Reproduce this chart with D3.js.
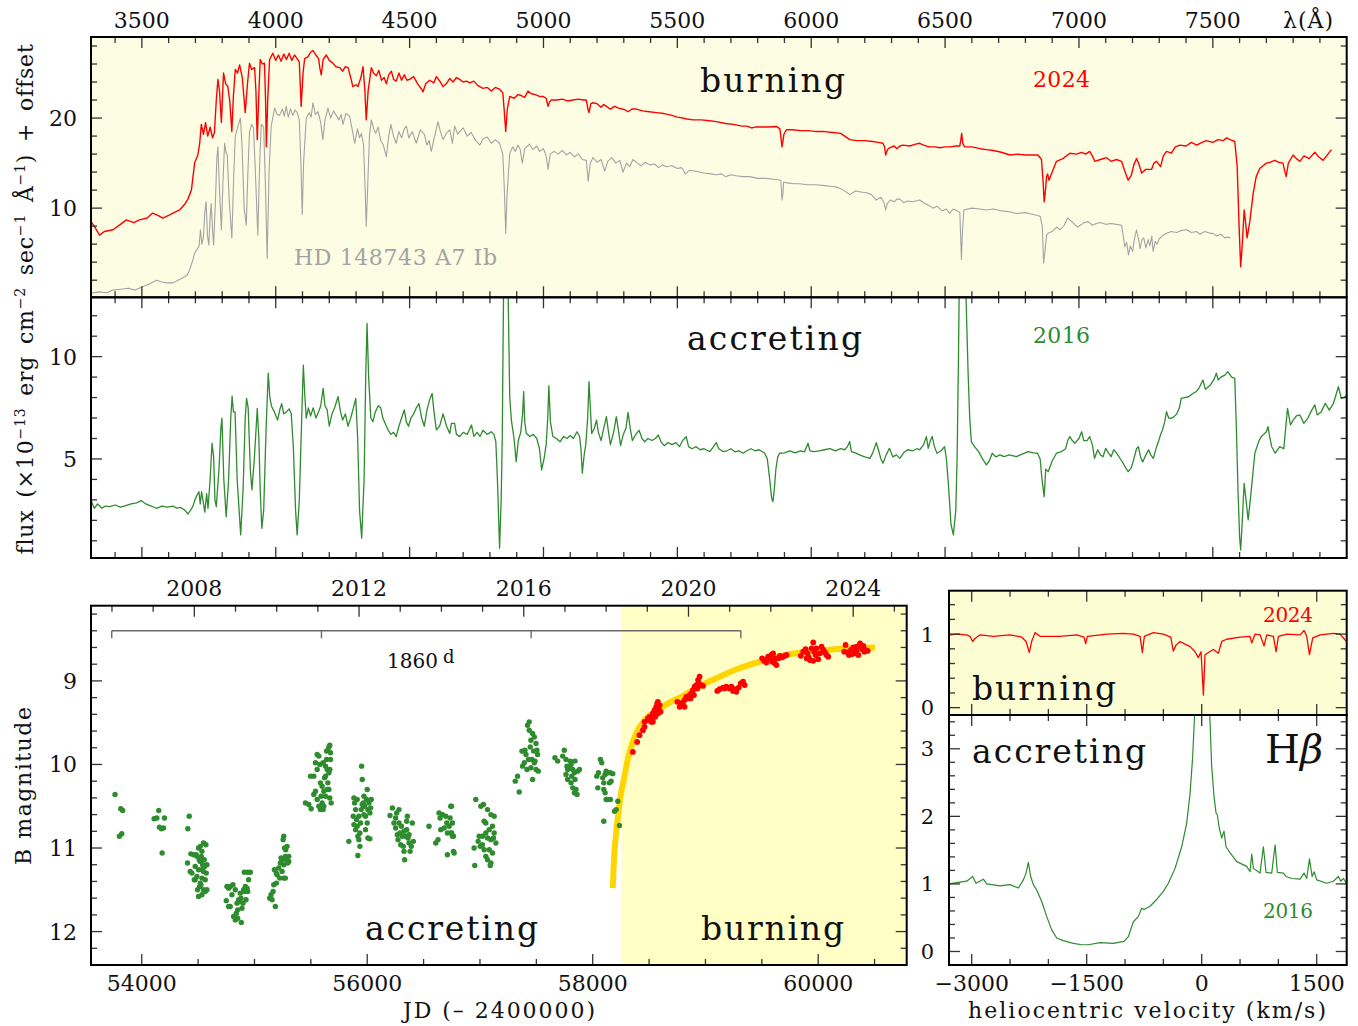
<!DOCTYPE html>
<html>
<head>
<meta charset="utf-8">
<script src="https://cdn.jsdelivr.net/npm/d3@7"></script>
<style>
  body { margin: 0; background: #fff; }
  svg text { font-family: "DejaVu Serif", serif; }
</style>
</head>
<body>
<script>
// ---------- data ----------

// 2024 spectrum (burning), [wavelength A, flux + offset]
const spec2024 = [
[3310,8.5],[3322,8.0],[3342,7.0],[3360,7.4],[3392,7.6],[3420,8.2],[3442,8.7],[3470,8.4],[3491,8.7],[3520,8.9],[3540,9.45],[3560,9.2],[3578,8.9],[3600,9.2],[3620,9.5],[3641,9.8],[3659,10.4],[3672,11.0],[3685,12.0],[3697,15.0],[3709,15.9],[3716,17.2],[3722,19.3],[3730,18.2],[3738,19.5],[3746,18.0],[3755,19.0],[3764,17.8],[3771,18.4],[3778,22.0],[3784,24.3],[3790,23.0],[3797,19.5],[3805,25.0],[3813,23.8],[3821,23.5],[3828,22.0],[3836,18.5],[3842,22.5],[3849,25.4],[3857,25.0],[3865,25.9],[3875,24.5],[3886,20.6],[3895,24.0],[3902,26.1],[3910,25.4],[3921,25.6],[3926,23.0],[3931,17.6],[3936,22.0],[3942,26.5],[3950,26.0],[3958,26.1],[3962,22.0],[3965,16.8],[3970,22.0],[3977,26.5],[3989,27.2],[4000,26.4],[4010,27.0],[4020,26.3],[4030,27.1],[4040,26.5],[4050,27.2],[4060,26.4],[4070,27.0],[4080,26.6],[4088,26.2],[4095,21.3],[4102,25.0],[4108,26.6],[4120,26.8],[4130,27.3],[4139,27.5],[4150,27.0],[4160,26.6],[4165,25.5],[4170,24.8],[4177,26.5],[4189,27.0],[4200,26.4],[4213,26.1],[4225,25.7],[4239,25.6],[4250,25.2],[4260,25.7],[4270,25.6],[4280,24.5],[4288,23.5],[4300,23.7],[4307,23.5],[4318,24.5],[4326,25.7],[4333,23.0],[4338,19.8],[4345,23.0],[4357,25.6],[4365,25.0],[4376,24.7],[4385,25.3],[4395,24.2],[4405,24.5],[4413,23.8],[4422,24.8],[4432,25.2],[4440,24.3],[4450,24.1],[4460,25.0],[4470,24.2],[4480,24.8],[4490,24.2],[4500,24.3],[4515,24.6],[4530,23.8],[4545,23.2],[4550,22.9],[4560,23.8],[4575,24.2],[4590,23.9],[4600,24.6],[4615,24.0],[4625,23.5],[4637,23.8],[4650,24.4],[4662,24.0],[4675,24.5],[4687,24.3],[4700,24.0],[4712,24.1],[4725,23.9],[4740,24.1],[4755,23.6],[4774,23.3],[4790,23.4],[4805,23.0],[4820,23.4],[4836,23.2],[4848,22.8],[4853,21.0],[4859,18.5],[4865,21.0],[4874,22.4],[4890,22.2],[4905,22.6],[4917,22.5],[4930,22.3],[4942,23.0],[4955,22.7],[4970,22.6],[4985,22.4],[4998,22.4],[5010,22.2],[5017,21.3],[5023,21.8],[5029,22.0],[5050,22.0],[5070,22.1],[5090,21.9],[5110,22.0],[5130,22.1],[5150,22.0],[5160,22.0],[5166,21.0],[5170,20.6],[5177,21.6],[5185,21.7],[5200,21.6],[5215,21.2],[5225,21.5],[5235,21.3],[5250,21.0],[5265,21.3],[5280,21.1],[5295,21.0],[5305,20.9],[5316,20.7],[5330,21.0],[5347,21.0],[5370,20.8],[5395,20.7],[5422,20.6],[5450,20.5],[5480,20.3],[5500,20.1],[5521,20.0],[5535,19.9],[5560,19.8],[5590,19.8],[5620,19.7],[5646,19.6],[5680,19.4],[5710,19.3],[5740,19.1],[5760,19.1],[5777,18.9],[5790,19.0],[5810,19.0],[5840,19.0],[5870,19.07],[5883,18.8],[5891,16.8],[5898,18.2],[5907,18.7],[5930,18.7],[5960,18.6],[5990,18.6],[6019,18.5],[6050,18.5],[6080,18.4],[6110,18.3],[6125,18.0],[6144,17.6],[6170,17.5],[6200,17.5],[6230,17.4],[6250,17.3],[6268,17.2],[6274,16.8],[6278,15.9],[6285,16.5],[6293,16.7],[6310,16.9],[6320,16.6],[6331,16.9],[6343,17.0],[6368,16.9],[6390,17.1],[6405,17.2],[6420,17.0],[6440,16.8],[6460,16.8],[6480,16.7],[6500,16.8],[6520,16.8],[6540,16.9],[6555,16.9],[6559,17.6],[6562,18.3],[6566,17.2],[6573,16.8],[6600,16.8],[6630,16.6],[6654,16.5],[6680,16.4],[6710,16.2],[6742,15.9],[6770,16.0],[6800,15.9],[6830,15.9],[6847,15.9],[6860,15.4],[6866,13.0],[6870,10.7],[6875,12.0],[6879,13.5],[6883,13.8],[6888,13.1],[6900,14.0],[6916,15.2],[6940,15.5],[6966,16.1],[6990,16.0],[7010,16.2],[7025,16.0],[7040,16.3],[7050,15.8],[7059,15.2],[7080,15.4],[7103,15.6],[7120,15.2],[7140,15.4],[7159,15.2],[7170,14.2],[7184,13.1],[7195,13.6],[7205,14.8],[7215,15.5],[7225,14.8],[7234,13.9],[7250,14.3],[7271,14.3],[7280,15.0],[7290,15.2],[7305,14.6],[7315,15.8],[7327,16.3],[7345,16.1],[7360,16.8],[7377,17.0],[7400,16.9],[7420,17.3],[7440,17.0],[7452,17.2],[7475,17.5],[7500,17.3],[7520,17.6],[7540,17.5],[7551,17.8],[7565,17.6],[7582,17.4],[7591,14.6],[7598,8.0],[7604,3.5],[7610,6.0],[7617,9.8],[7622,8.5],[7628,6.7],[7638,8.5],[7651,11.7],[7662,13.5],[7675,14.4],[7700,15.0],[7715,15.1],[7731,15.3],[7745,15.1],[7762,15.0],[7768,14.2],[7774,13.5],[7782,15.0],[7800,15.9],[7812,15.5],[7825,15.2],[7840,15.8],[7860,15.5],[7881,16.2],[7895,15.7],[7912,15.3],[7925,15.8],[7943,16.5]
];

// HD 148743 A7 Ib template
const specTemplate = [
[3310,0.56],[3340,0.7],[3370,0.6],[3392,0.9],[3420,1.0],[3450,1.1],[3475,0.9],[3504,1.3],[3530,1.6],[3554,2.0],[3575,1.8],[3595,1.7],[3616,1.7],[3635,2.0],[3655,2.3],[3670,2.6],[3678,3.1],[3690,4.2],[3697,5.0],[3705,5.4],[3713,5.7],[3719,7.6],[3724,6.0],[3730,6.8],[3735,9.5],[3740,10.7],[3745,7.0],[3750,5.9],[3755,9.0],[3759,10.5],[3764,7.5],[3768,5.9],[3775,11.0],[3780,15.5],[3784,16.8],[3790,12.0],[3797,7.6],[3803,13.0],[3809,17.2],[3814,16.2],[3819,15.9],[3826,11.0],[3836,6.7],[3843,13.5],[3849,18.0],[3858,19.0],[3868,20.0],[3874,17.0],[3882,10.0],[3890,8.1],[3896,14.0],[3902,18.5],[3910,19.3],[3917,18.9],[3924,14.0],[3933,7.0],[3940,15.0],[3946,19.3],[3955,19.0],[3961,13.0],[3968,4.4],[3975,14.0],[3983,19.1],[3996,21.1],[4005,20.4],[4014,20.3],[4025,21.0],[4032,20.2],[4039,21.3],[4047,20.1],[4055,21.0],[4064,20.3],[4072,20.9],[4080,20.6],[4088,19.8],[4094,15.0],[4099,9.3],[4104,15.0],[4114,20.0],[4125,20.6],[4132,20.1],[4139,21.7],[4148,20.4],[4158,20.7],[4168,19.5],[4176,17.6],[4184,19.8],[4195,21.1],[4205,20.0],[4216,20.8],[4226,20.3],[4236,19.8],[4244,20.4],[4251,19.3],[4262,20.5],[4276,20.2],[4284,19.0],[4295,17.2],[4305,18.8],[4313,17.8],[4320,18.3],[4328,17.0],[4334,12.0],[4338,8.0],[4343,12.0],[4350,18.0],[4357,19.8],[4366,18.8],[4374,18.3],[4382,19.0],[4392,17.5],[4402,17.0],[4413,15.7],[4422,18.0],[4430,19.3],[4440,18.0],[4450,17.2],[4460,18.5],[4470,17.8],[4480,18.8],[4488,19.1],[4497,17.8],[4510,18.5],[4525,17.2],[4540,18.7],[4555,18.2],[4565,17.0],[4573,17.5],[4581,16.3],[4592,17.8],[4606,19.6],[4615,18.5],[4625,17.6],[4637,18.3],[4650,18.7],[4660,17.2],[4668,19.1],[4680,18.2],[4690,18.6],[4700,18.9],[4715,18.0],[4730,18.4],[4745,17.6],[4762,17.0],[4775,17.7],[4790,17.9],[4805,17.2],[4820,17.6],[4836,17.2],[4848,16.0],[4854,12.0],[4859,7.2],[4864,11.5],[4874,16.1],[4885,16.8],[4895,16.3],[4905,17.0],[4913,16.5],[4921,15.0],[4930,16.6],[4948,17.1],[4960,16.5],[4975,16.9],[4986,16.3],[5000,16.6],[5010,15.8],[5017,14.3],[5025,16.0],[5040,16.3],[5055,16.0],[5070,16.4],[5085,15.9],[5100,16.2],[5115,15.7],[5130,16.0],[5145,15.4],[5160,15.3],[5167,13.0],[5175,15.0],[5185,15.6],[5200,15.1],[5215,15.4],[5229,14.1],[5240,15.2],[5255,15.6],[5270,15.0],[5285,15.3],[5297,14.0],[5310,15.0],[5322,14.6],[5334,15.4],[5350,15.0],[5365,14.7],[5380,15.1],[5397,14.8],[5415,14.9],[5430,14.5],[5445,14.8],[5459,14.6],[5480,14.7],[5500,14.4],[5515,14.5],[5521,14.3],[5530,13.8],[5545,14.2],[5570,14.1],[5600,13.9],[5625,13.8],[5646,13.7],[5665,13.8],[5680,13.5],[5700,13.7],[5720,13.6],[5745,13.5],[5770,13.5],[5800,13.3],[5832,13.3],[5860,13.2],[5886,13.1],[5889,12.0],[5891,10.9],[5894,11.5],[5897,12.9],[5910,12.8],[5935,12.7],[5957,12.7],[5985,12.6],[6019,12.6],[6050,12.5],[6081,12.4],[6100,12.3],[6120,12.0],[6144,11.5],[6165,11.9],[6185,11.8],[6206,11.7],[6225,11.5],[6243,10.9],[6260,11.2],[6272,10.6],[6278,9.8],[6284,10.5],[6295,10.9],[6310,10.7],[6320,11.0],[6331,11.0],[6345,10.6],[6360,10.8],[6380,10.7],[6405,10.9],[6420,10.6],[6440,10.3],[6455,10.0],[6470,10.2],[6490,9.7],[6505,9.9],[6517,9.4],[6530,9.9],[6545,9.7],[6555,9.5],[6558,7.0],[6561,4.3],[6565,7.5],[6570,9.8],[6600,10.0],[6630,9.9],[6654,9.8],[6680,9.9],[6710,9.7],[6740,9.6],[6766,9.4],[6800,9.5],[6830,9.3],[6855,9.1],[6863,8.0],[6868,3.9],[6874,5.5],[6879,7.0],[6885,7.2],[6900,7.4],[6916,7.9],[6930,7.6],[6945,8.1],[6958,8.9],[6966,8.7],[6980,8.3],[6995,7.9],[7010,8.2],[7020,8.4],[7034,8.5],[7050,8.1],[7065,8.3],[7080,8.4],[7100,8.2],[7120,8.3],[7140,8.2],[7159,8.1],[7165,7.0],[7171,5.7],[7178,6.2],[7185,4.8],[7192,5.8],[7200,5.2],[7207,6.5],[7215,7.6],[7222,6.6],[7228,5.5],[7235,6.5],[7242,6.7],[7250,5.6],[7258,6.5],[7265,5.8],[7272,6.9],[7277,5.2],[7285,6.3],[7292,6.0],[7300,6.6],[7315,7.0],[7327,7.2],[7345,7.4],[7365,7.3],[7380,7.5],[7402,7.6],[7420,7.3],[7440,7.4],[7452,7.1],[7470,7.4],[7490,7.2],[7500,7.2],[7515,6.9],[7530,7.1],[7545,6.7],[7555,6.8],[7565,6.67]
];

// 2016 spectrum (accreting)
const spec2016 = [
[3310,3.0],[3322,2.59],[3335,2.8],[3350,2.6],[3365,2.7],[3380,2.67],[3400,2.75],[3420,2.65],[3440,2.72],[3460,2.8],[3480,2.85],[3498,2.96],[3515,2.8],[3535,2.7],[3554,2.59],[3575,2.7],[3595,2.65],[3616,2.7],[3630,2.6],[3645,2.63],[3660,2.5],[3672,2.31],[3682,2.5],[3690,2.67],[3698,3.0],[3705,3.2],[3713,3.4],[3718,2.8],[3723,3.4],[3728,3.0],[3735,2.4],[3742,3.3],[3747,2.59],[3755,4.0],[3762,5.77],[3768,5.1],[3773,3.0],[3778,2.67],[3788,4.5],[3795,6.5],[3799,6.99],[3806,4.0],[3815,2.18],[3824,4.0],[3832,7.0],[3837,8.08],[3842,7.3],[3848,7.3],[3856,4.0],[3869,1.29],[3878,3.5],[3886,7.0],[3891,7.96],[3897,7.5],[3905,4.5],[3911,3.49],[3920,5.0],[3931,7.47],[3937,6.0],[3942,3.5],[3948,1.61],[3955,2.5],[3964,6.5],[3972,9.19],[3978,8.0],[3985,7.55],[3995,7.3],[4007,6.9],[4015,7.4],[4022,7.7],[4030,7.2],[4040,7.3],[4050,7.45],[4058,7.2],[4066,5.5],[4074,2.5],[4080,1.29],[4088,3.0],[4097,7.0],[4103,9.59],[4109,8.0],[4114,7.0],[4122,7.5],[4130,7.1],[4140,7.5],[4150,7.0],[4160,7.3],[4168,7.6],[4177,8.45],[4184,7.6],[4192,7.4],[4200,6.6],[4210,7.2],[4220,7.5],[4233,8.05],[4242,7.3],[4250,6.9],[4260,7.2],[4270,6.6],[4280,7.0],[4290,7.5],[4299,7.96],[4306,6.0],[4313,2.5],[4321,1.13],[4330,4.0],[4336,9.0],[4341,11.63],[4347,9.0],[4355,7.0],[4363,6.82],[4372,7.3],[4383,7.6],[4392,7.5],[4400,7.0],[4410,6.7],[4420,6.4],[4430,6.2],[4440,6.3],[4450,6.09],[4460,6.6],[4470,7.0],[4480,7.4],[4488,6.8],[4496,6.6],[4505,7.0],[4515,7.2],[4525,7.5],[4535,7.7],[4545,7.0],[4555,6.6],[4565,7.4],[4575,7.9],[4584,8.2],[4592,7.2],[4600,6.42],[4612,6.6],[4625,7.2],[4638,6.6],[4650,6.25],[4656,6.74],[4668,6.74],[4675,6.2],[4687,6.09],[4700,6.3],[4715,6.2],[4731,6.66],[4740,6.1],[4752,6.3],[4763,6.1],[4774,6.4],[4790,6.2],[4805,6.33],[4815,6.2],[4822,5.85],[4828,4.0],[4836,0.64],[4842,3.0],[4846,6.0],[4850,12.0],[4855,18.0],[4862,18.0],[4868,13.0],[4874,8.0],[4880,6.9],[4890,6.0],[4898,4.87],[4906,5.9],[4915,6.3],[4922,7.2],[4926,8.29],[4930,6.8],[4936,6.25],[4950,6.1],[4962,6.2],[4975,6.0],[4985,5.5],[4993,4.46],[5002,5.0],[5010,5.7],[5016,7.0],[5020,8.58],[5026,6.8],[5035,6.1],[5048,6.0],[5062,5.84],[5075,6.1],[5088,6.0],[5100,6.15],[5112,6.0],[5125,6.33],[5135,6.1],[5140,5.5],[5145,4.3],[5152,5.2],[5158,5.7],[5165,7.0],[5170,8.78],[5175,7.5],[5180,6.25],[5190,6.5],[5198,6.9],[5205,6.3],[5215,5.9],[5225,6.5],[5235,7.07],[5243,6.3],[5250,5.7],[5262,6.3],[5272,7.07],[5280,6.4],[5288,5.65],[5298,6.2],[5308,6.5],[5316,7.28],[5324,6.5],[5332,5.9],[5345,6.2],[5357,6.4],[5368,6.0],[5378,5.84],[5390,6.0],[5405,5.9],[5418,6.0],[5429,6.17],[5440,5.8],[5452,5.65],[5465,5.8],[5480,5.7],[5495,5.8],[5508,5.6],[5520,5.9],[5533,6.09],[5542,5.6],[5555,5.5],[5570,5.6],[5585,5.45],[5600,5.5],[5615,5.4],[5621,5.36],[5635,5.6],[5645,5.8],[5655,5.5],[5670,5.36],[5685,5.4],[5700,5.5],[5715,5.35],[5730,5.4],[5745,5.28],[5760,5.4],[5775,5.5],[5790,5.4],[5805,5.45],[5818,5.35],[5826,5.28],[5836,5.0],[5845,4.0],[5852,3.1],[5857,2.91],[5862,3.5],[5868,4.5],[5875,5.1],[5882,5.28],[5900,5.3],[5920,5.4],[5940,5.3],[5960,5.4],[5975,5.35],[5988,5.77],[5995,5.4],[6010,5.36],[6030,5.4],[6050,5.45],[6070,5.5],[6090,5.4],[6110,5.5],[6125,5.45],[6135,5.6],[6144,5.85],[6150,5.36],[6165,5.3],[6180,5.2],[6200,5.1],[6219,5.03],[6230,5.3],[6243,5.8],[6252,5.4],[6260,5.0],[6268,4.79],[6280,5.2],[6292,5.52],[6305,5.1],[6318,5.2],[6331,5.03],[6345,5.3],[6360,5.45],[6380,5.4],[6395,5.5],[6405,5.45],[6420,5.7],[6430,6.09],[6437,5.52],[6445,5.9],[6452,6.1],[6460,5.6],[6470,5.28],[6485,5.4],[6498,5.6],[6505,5.0],[6513,3.65],[6522,1.8],[6531,1.29],[6540,2.5],[6545,5.11],[6550,10.0],[6555,16.0],[6573,16.0],[6580,12.0],[6586,9.19],[6592,7.0],[6598,5.85],[6610,5.6],[6625,5.36],[6640,5.0],[6654,4.71],[6665,4.9],[6676,5.28],[6690,5.1],[6705,5.2],[6720,5.11],[6740,5.2],[6766,5.11],[6790,5.25],[6810,5.36],[6830,5.3],[6845,5.28],[6855,5.0],[6862,4.0],[6870,3.16],[6876,4.5],[6885,4.38],[6900,4.9],[6916,5.28],[6935,5.36],[6950,5.5],[6958,5.9],[6966,6.09],[6975,5.9],[6985,5.77],[7000,6.0],[7010,6.33],[7018,5.9],[7030,5.9],[7040,6.09],[7050,5.7],[7058,5.03],[7070,5.45],[7080,5.2],[7090,5.11],[7100,5.52],[7110,5.3],[7120,5.11],[7130,5.45],[7140,5.3],[7160,4.9],[7175,4.55],[7184,4.38],[7195,4.55],[7205,5.0],[7215,5.5],[7222,5.6],[7230,5.1],[7238,4.85],[7250,5.2],[7260,5.45],[7268,5.2],[7278,5.03],[7290,5.6],[7297,5.85],[7305,6.2],[7312,6.42],[7320,6.8],[7327,7.31],[7335,7.0],[7345,6.99],[7355,7.07],[7365,7.2],[7375,7.5],[7382,7.96],[7395,8.0],[7410,8.04],[7425,8.2],[7438,8.29],[7450,8.5],[7463,8.86],[7472,8.41],[7490,8.6],[7505,8.9],[7513,9.19],[7520,8.86],[7530,9.0],[7545,9.1],[7556,9.27],[7570,9.0],[7582,8.94],[7588,6.5],[7594,3.49],[7600,1.2],[7604,0.55],[7610,2.0],[7617,3.81],[7624,3.0],[7632,2.02],[7640,3.0],[7657,5.28],[7670,5.8],[7680,6.09],[7690,6.2],[7700,6.33],[7706,6.58],[7712,6.1],[7720,5.6],[7733,5.28],[7750,5.6],[7765,5.5],[7779,7.47],[7790,6.66],[7800,6.9],[7812,7.1],[7825,7.15],[7840,6.74],[7855,7.0],[7870,7.4],[7881,7.64],[7890,7.15],[7905,7.3],[7920,7.72],[7935,7.39],[7950,7.7],[7969,8.53],[7980,7.96],[7990,8.0],[8000,8.12]
];

// B light curve, accreting phase [JD-2400000, B]
const lcAccreting = [
[53763,10.36],[53814,10.53],[53831,10.55],[53802,10.86],[53823,10.83],
[54110,10.65],[54134,10.64],[54151,10.55],[54202,10.64],[54193,10.76],[54175,10.77],[54157,10.75],[54181,11.06],
[54421,10.62],[54409,10.77],[54406,11.18],[54436,11.07],[54460,11.08],[54430,11.28],[54445,11.30],[54466,11.38],[54489,11.10],[54504,11.00],[54519,10.98],[54534,11.04],[54548,10.94],[54569,10.96],[54554,11.14],[54578,11.20],[54534,11.26],[54504,11.26],[54519,11.42],[54548,11.50],[54563,11.52],[54534,11.56],[54504,11.58],[54513,11.46],[54489,11.34],[54474,11.22],[54519,11.16],[54495,11.50],[54578,11.50],[54548,11.28],[54563,11.38],[54534,11.36],[54483,11.08],[54528,11.10],[54557,11.22],[54510,11.14],[54540,11.20],[54474,11.38],[54572,11.30],[54525,11.44],
[54756,11.46],[54771,11.48],[54785,11.46],[54750,11.63],[54771,11.70],[54785,11.70],[54800,11.56],[54815,11.82],[54830,11.86],[54839,11.78],[54845,11.66],[54851,11.74],[54860,11.62],[54869,11.64],[54874,11.54],[54880,11.60],[54889,11.72],[54898,11.66],[54904,11.50],[54913,11.52],[54919,11.46],[54925,11.62],[54934,11.48],[54940,11.52],[54910,11.29],[54940,11.29],[54948,11.38],[54963,11.29],[54883,11.89],[54851,11.84],[54830,11.50],[54809,11.44],
[55135,11.60],[55147,11.56],[55156,11.62],[55165,11.52],[55185,11.70],[55171,11.44],[55194,11.42],[55177,11.26],[55200,11.32],[55215,11.24],[55224,11.36],[55194,11.30],[55230,11.18],[55236,11.12],[55245,11.14],[55260,11.20],[55266,11.00],[55277,11.02],[55274,11.10],[55283,11.14],[55295,11.18],[55304,11.10],[55254,10.90],[55260,10.86],[55289,10.98],[55304,11.16],[55260,11.36],[55274,11.36],[55245,11.28],
[55452,10.46],[55482,10.48],[55503,10.53],[55497,10.14],[55526,10.14],[55541,9.98],[55556,10.06],[55571,9.90],[55580,10.00],[55585,10.22],[55591,10.38],[55600,10.46],[55609,10.54],[55615,10.32],[55621,10.16],[55630,10.02],[55639,9.94],[55645,10.06],[55651,10.22],[55660,10.30],[55668,10.40],[55680,10.46],[55639,9.84],[55651,9.83],[55660,9.79],[55668,9.77],[55674,9.86],[55630,10.14],[55600,10.26],[55571,10.50],[55556,10.42],[55541,10.32],[55526,10.36],[55585,10.54],[55615,10.50],[55645,10.30],[55660,10.10],[55674,9.94],[55668,10.06],[55630,10.38],[55609,9.98],[55556,9.88],
[55837,10.92],[55882,10.40],[55888,10.46],[55897,10.54],[55876,10.62],[55905,10.66],[55911,10.74],[55917,10.86],[55926,10.90],[55935,10.82],[55941,10.70],[55947,10.54],[55956,10.18],[55950,10.02],[55965,10.46],[55971,10.38],[55977,10.50],[55985,10.62],[55994,10.42],[56000,10.30],[56006,10.54],[56015,10.46],[56024,10.58],[56030,10.52],[56036,10.42],[56000,10.70],[55985,10.78],[56006,10.88],[56024,10.89],[55917,11.09],[55935,10.98],[55897,10.78],[55882,10.72],[55971,10.60],[55956,10.48],[55926,10.62],[55911,10.42],
[56202,10.61],[56223,10.52],[56237,10.70],[56252,10.76],[56261,10.58],[56267,10.84],[56273,10.90],[56282,10.70],[56291,10.82],[56297,10.96],[56303,10.74],[56311,10.86],[56320,10.98],[56326,11.04],[56332,11.14],[56341,10.86],[56350,10.68],[56356,10.62],[56362,10.88],[56371,10.94],[56380,11.04],[56391,10.98],[56409,10.92],[56400,10.70],[56350,10.78],[56252,10.64],[56282,10.54],[56326,10.80],[56371,10.84],
[56548,10.74],[56608,10.94],[56628,10.90],[56637,10.58],[56646,10.64],[56652,10.78],[56667,10.60],[56682,10.76],[56697,10.62],[56706,10.70],[56711,10.82],[56726,10.74],[56735,10.64],[56741,10.82],[56747,10.50],[56756,10.86],[56765,11.04],[56711,11.08],[56741,10.50],[56756,10.70],[56765,10.86],[56750,10.82],[56771,11.06],
[56963,10.42],[57008,10.50],[57031,10.48],[57067,10.54],[57097,10.60],[57126,10.62],[57037,10.68],[57052,10.70],[57111,10.74],[57082,10.78],[57126,10.82],[56993,10.86],[57022,10.86],[57067,10.88],[57097,10.90],[57141,10.94],[56948,11.00],[57002,10.98],[57037,11.02],[57082,11.02],[57111,11.06],[57052,11.10],[57067,11.14],[57097,11.18],[56954,11.21],[57091,11.21],[56984,10.92],[57022,10.96],[57120,10.88],[57052,10.82],
[57313,10.20],[57334,10.14],[57348,10.33],[57372,9.84],[57378,10.02],[57393,9.98],[57408,9.88],[57422,9.53],[57437,9.49],[57437,9.59],[57452,9.71],[57467,9.63],[57482,9.67],[57497,9.75],[57505,9.83],[57511,9.88],[57461,9.94],[57446,9.79],[57467,10.18],[57476,9.84],[57488,9.96],[57417,10.06],[57431,9.94],[57399,9.83],[57497,10.06],[57517,10.08],[57482,9.98],[57452,10.04],
[57665,9.92],[57689,9.96],[57734,9.90],[57748,9.83],[57763,9.94],[57772,10.02],[57778,10.06],[57793,10.04],[57802,9.96],[57808,10.00],[57823,10.06],[57837,10.10],[57843,9.96],[57867,10.08],[57763,10.12],[57778,10.18],[57808,10.22],[57823,10.28],[57852,10.30],[57861,10.36],[57837,10.34],[57814,10.14],[57843,10.18],[57882,10.06],
[58036,10.14],[58051,10.10],[58068,9.94],[58080,9.98],[58089,10.16],[58098,10.22],[58110,10.12],[58119,10.08],[58134,10.10],[58157,10.10],[58178,10.11],[58045,10.28],[58098,10.30],[58119,10.42],[58134,10.42],[58157,10.42],[58110,10.34],[58148,10.22],[58163,10.20],[58098,10.68],[58208,10.54],[58223,10.44],[58237,10.73],[58193,10.56]
];

// B light curve, burning phase
const lcBurning = [
[58356,9.85],[58394,9.73],[58415,9.65],[58445,9.59],[58460,9.55],[58460,9.49],[58489,9.47],[58504,9.43],[58519,9.45],[58534,9.39],[58548,9.35],[58563,9.31],[58578,9.25],[58593,9.29],[58554,9.43],[58578,9.39],[58602,9.37],[58519,9.49],[58489,9.45],[58534,9.49],[58572,9.27],[58584,9.33],
[58750,9.25],[58771,9.31],[58786,9.29],[58800,9.26],[58815,9.23],[58830,9.19],[58845,9.21],[58860,9.17],[58874,9.15],[58889,9.11],[58904,9.07],[58919,9.05],[58934,8.99],[58948,8.95],[58940,9.03],[58963,9.05],[58978,9.06],[58928,9.09],[58898,9.17],[58868,9.21],[58815,9.31],[58786,9.27],
[59105,9.12],[59126,9.10],[59156,9.08],[59185,9.07],[59215,9.09],[59245,9.12],[59260,9.10],[59274,9.13],[59295,9.08],[59313,9.03],[59334,9.01],[59348,9.05],[59230,9.07],[59171,9.09],
[59503,8.73],[59520,8.76],[59541,8.75],[59556,8.71],[59571,8.72],[59585,8.69],[59600,8.67],[59615,8.79],[59630,8.81],[59645,8.73],[59660,8.70],[59674,8.72],[59689,8.71],[59704,8.70],[59719,8.69],[59541,8.78],[59591,8.77],[59621,8.73],
[59846,8.70],[59867,8.65],[59888,8.62],[59906,8.67],[59917,8.72],[59926,8.75],[59941,8.61],[59956,8.54],[59965,8.65],[59977,8.69],[59985,8.61],[60000,8.74],[60015,8.67],[60030,8.59],[60045,8.63],[60060,8.66],[60074,8.69],[60089,8.71],[59897,8.73],[59956,8.76],
[60231,8.65],[60243,8.57],[60261,8.66],[60273,8.69],[60291,8.63],[60311,8.60],[60326,8.67],[60341,8.64],[60356,8.69],[60371,8.55],[60380,8.59],[60391,8.62],[60409,8.65],[60421,8.63],[60439,8.64],[60297,8.68],[60341,8.59],[60400,8.58]
];

// model fit of the brightening (yellow)
const lcFit = [
[58178,11.48],[58187,11.18],[58208,10.82],[58228,10.58],[58252,10.34],[58282,10.14],[58311,9.94],[58356,9.73],[58400,9.59],[58460,9.47],[58548,9.37],[58667,9.27],[58815,9.17],[58963,9.05],[59111,8.96],[59260,8.87],[59408,8.80],[59556,8.74],[59704,8.69],[59852,8.66],[60000,8.64],[60148,8.62],[60297,8.61],[60504,8.60]
];

const burnStartJD = 58252;
const periodStartJD = 53734;
const periodDays = 1860;
const periodCycles = 3;

// H-beta profiles [km/s, normalised flux]
const hbBurning = [
[-3296,0.986],[-3196,1.0],[-3065,0.99],[-3022,0.97],[-2987,0.90],[-2957,0.94],[-2891,0.99],[-2718,0.97],[-2500,0.99],[-2348,0.96],[-2291,0.90],[-2248,0.75],[-2218,0.90],[-2174,1.02],[-2109,0.97],[-1848,0.97],[-1630,0.99],[-1535,0.96],[-1513,0.87],[-1492,0.97],[-1239,1.0],[-1022,1.01],[-891,1.0],[-804,0.97],[-774,0.75],[-748,0.97],[-630,1.02],[-500,1.0],[-404,0.96],[-370,0.77],[-335,0.85],[-283,0.90],[-230,0.87],[-152,0.83],[-87,0.76],[-44,0.68],[-9,0.76],[22,0.17],[43,0.72],[87,0.75],[152,0.79],[217,0.74],[261,0.90],[326,0.93],[500,0.96],[630,0.97],[652,0.88],[696,1.0],[761,0.99],[813,0.84],[848,0.99],[935,0.97],[970,0.76],[1000,0.97],[1109,1.0],[1283,0.99],[1335,1.05],[1370,0.97],[1405,0.72],[1448,0.95],[1544,0.99],[1717,1.01],[1804,1.0],[1870,0.92],[1891,0.90]
];
const hbAccreting = [
[-3296,1.0],[-3196,1.02],[-3065,1.04],[-2987,1.11],[-2944,1.01],[-2848,1.07],[-2804,1.0],[-2631,0.97],[-2500,0.99],[-2391,0.94],[-2326,1.06],[-2291,1.16],[-2261,1.32],[-2231,1.11],[-2196,0.99],[-2152,0.91],[-2087,0.74],[-2022,0.52],[-1957,0.32],[-1891,0.20],[-1804,0.16],[-1674,0.12],[-1565,0.10],[-1478,0.10],[-1326,0.13],[-1152,0.12],[-1013,0.15],[-957,0.22],[-891,0.44],[-826,0.52],[-783,0.64],[-752,0.62],[-674,0.67],[-587,0.77],[-500,0.89],[-435,1.01],[-348,1.23],[-261,1.55],[-196,1.90],[-152,2.34],[-118,2.88],[-96,3.43],[-60,4.6],[0,6.0],[60,4.6],[100,3.62],[109,3.38],[130,2.74],[161,2.29],[187,2.05],[204,2.02],[230,1.82],[261,1.68],[291,1.78],[317,1.55],[370,1.46],[457,1.33],[587,1.26],[630,1.18],[652,1.44],[674,1.23],[761,1.16],[804,1.55],[839,1.17],[913,1.16],[957,1.58],[987,1.17],[1065,1.16],[1100,1.11],[1174,1.08],[1283,1.07],[1335,1.16],[1370,1.08],[1405,1.37],[1440,1.11],[1466,1.18],[1500,1.06],[1631,1.01],[1717,1.04],[1783,1.11],[1813,1.04],[1848,1.08],[1883,1.02]
];

const wavelengthLabels = [3500, 4000, 4500, 5000, 5500, 6000, 6500, 7000, 7500];
const yearLabels = [2008, 2012, 2016, 2020, 2024];
const jdLabels = [54000, 56000, 58000, 60000];
const velocityLabels = [-3000, -1500, 0, 1500];

// ---------- layout ----------
const RED = "#ff0000", GREEN = "#2e8b2e", GRAY = "#a3a3a3", GOLD = "#ffd500";
const INK = "#111", TICK = "#333";

const svg = d3.select("body").append("svg")
    .attr("width", 1358).attr("height", 1026);
const defs = svg.append("defs");

// spectra panels
const sp = {left: 91, right: 1346.7, top: 37, mid: 297.3, bottom: 558};
const xLam = d3.scaleLinear().domain([3310, 8000]).range([sp.left, sp.right]);
const yTop = d3.scaleLinear().domain([0.1, 29.0]).range([sp.mid, sp.top]);
const yMid = d3.scaleLinear().domain([0.16, 12.9]).range([sp.bottom, sp.mid]);

// light curve panel
const lc = {left: 91, right: 906.7, top: 605.7, bottom: 965};
const xJD = d3.scaleLinear().domain([53550, 60785]).range([lc.left, lc.right]);
const yMag = d3.scaleLinear().domain([8.1, 12.4]).range([lc.top, lc.bottom]);
const yearToJD = yr => 51544.5 + (yr - 2000) * 365.25;

// H-beta panels
const hb = {left: 949, right: 1346.7, top: 590.7, mid: 715, bottom: 965};
const xVel = d3.scaleLinear().domain([-3296, 1891]).range([hb.left, hb.right]);
const yHbTop = d3.scaleLinear().domain([-0.1, 1.59]).range([hb.mid, hb.top]);
const yHbBot = d3.scaleLinear().domain([-0.2, 3.5]).range([hb.bottom, hb.mid]);

function clip(id, x0, y0, x1, y1) {
    defs.append("clipPath").attr("id", id).append("rect")
        .attr("x", x0).attr("y", y0).attr("width", x1 - x0).attr("height", y1 - y0);
    return svg.append("g").attr("clip-path", `url(#${id})`);
}

// backgrounds
svg.append("rect").attr("x", sp.left).attr("y", sp.top)
    .attr("width", sp.right - sp.left).attr("height", sp.mid - sp.top).attr("fill", "#fdfde4");
svg.append("rect").attr("x", xJD(burnStartJD)).attr("y", lc.top)
    .attr("width", lc.right - xJD(burnStartJD)).attr("height", lc.bottom - lc.top).attr("fill", "#ffffc6");
svg.append("rect").attr("x", hb.left).attr("y", hb.top)
    .attr("width", hb.right - hb.left).attr("height", hb.mid - hb.top).attr("fill", "#fdfdd4");

function drawLine(g, data, x, y, color, width) {
    g.append("path").datum(data)
        .attr("d", d3.line().x(d => x(d[0])).y(d => y(d[1])))
        .attr("fill", "none").attr("stroke", color).attr("stroke-width", width)
        .attr("stroke-linejoin", "round");
}

// spectra
const gTop = clip("clipTop", sp.left, sp.top, sp.right, sp.mid);
drawLine(gTop, specTemplate, xLam, yTop, GRAY, 1.1);
drawLine(gTop, spec2024, xLam, yTop, RED, 1.4);
const gMid = clip("clipMid", sp.left, sp.mid, sp.right, sp.bottom);
drawLine(gMid, spec2016, xLam, yMid, GREEN, 1.3);

// light curve
const gLc = clip("clipLc", lc.left, lc.top, lc.right, lc.bottom);
gLc.append("path").datum(lcFit)
    .attr("d", d3.line().curve(d3.curveMonotoneX).x(d => xJD(d[0])).y(d => yMag(d[1])))
    .attr("fill", "none").attr("stroke", GOLD).attr("stroke-width", 6);
gLc.selectAll(".acc").data(lcAccreting).join("circle")
    .attr("cx", d => xJD(d[0])).attr("cy", d => yMag(d[1])).attr("r", 2.7).attr("fill", GREEN);
gLc.selectAll(".burn").data(lcBurning).join("circle")
    .attr("cx", d => xJD(d[0])).attr("cy", d => yMag(d[1])).attr("r", 2.9).attr("fill", RED);

// 1860 d period bracket
const periodTicks = d3.range(periodCycles + 1).map(i => periodStartJD + i * periodDays);
const gBr = svg.append("g").attr("stroke", "#6a6a6a").attr("stroke-width", 1.4);
gBr.append("line").attr("x1", xJD(periodTicks[0])).attr("x2", xJD(periodTicks[periodCycles]))
    .attr("y1", yMag(8.40)).attr("y2", yMag(8.40));
gBr.selectAll(".pt").data(periodTicks).join("line")
    .attr("x1", d => xJD(d)).attr("x2", d => xJD(d))
    .attr("y1", yMag(8.40)).attr("y2", yMag(8.49));

// H-beta profiles
const gHbTop = clip("clipHbTop", hb.left, hb.top, hb.right, hb.mid);
drawLine(gHbTop, hbBurning, xVel, yHbTop, RED, 1.3);
const gHbBot = clip("clipHbBot", hb.left, hb.mid, hb.right, hb.bottom);
drawLine(gHbBot, hbAccreting, xVel, yHbBot, GREEN, 1.2);

// ---------- ticks ----------
const gTicks = svg.append("g").attr("stroke", TICK).attr("stroke-width", 1.3);

function xTicks(scale, vals, y, len, dir) {
    gTicks.append("g").selectAll("line").data(vals).join("line")
        .attr("x1", d => scale(d)).attr("x2", d => scale(d))
        .attr("y1", y).attr("y2", y + dir * len);
}
function yTicks(scale, vals, x, len, dir) {
    gTicks.append("g").selectAll("line").data(vals).join("line")
        .attr("y1", d => scale(d)).attr("y2", d => scale(d))
        .attr("x1", x).attr("x2", x + dir * len);
}
const MAJ = 11, MIN = 6;

// wavelength ticks
const lamMaj = d3.range(3500, 8000, 500);
const lamMin = d3.range(3400, 8000, 100).filter(d => d % 500 !== 0);
[[sp.top, 1], [sp.mid, -1], [sp.mid, 1], [sp.bottom, -1]].forEach(([y, dir]) => {
    xTicks(xLam, lamMaj, y, MAJ, dir);
    xTicks(xLam, lamMin, y, MIN, dir);
});
const topMaj = [10, 20], topMin = d3.range(2, 29, 2).filter(d => d % 10 !== 0);
const midMaj = [5, 10], midMin = d3.range(1, 13, 1).filter(d => d % 5 !== 0);
[[sp.left, 1], [sp.right, -1]].forEach(([x, dir]) => {
    yTicks(yTop, topMaj, x, MAJ, dir); yTicks(yTop, topMin, x, MIN, dir);
    yTicks(yMid, midMaj, x, MAJ, dir); yTicks(yMid, midMin, x, MIN, dir);
});

// light curve ticks
xTicks(xJD, d3.range(54000, 60786, 2000), lc.bottom, MAJ, -1);
xTicks(xJD, d3.range(53500, 60786, 500).filter(d => d % 2000 !== 0 && d > 53550), lc.bottom, MIN, -1);
const years = d3.range(2006, 2026);
xTicks(xJD, years.filter(y => y % 4 === 0).map(yearToJD), lc.top, MAJ, 1);
xTicks(xJD, years.filter(y => y % 4 !== 0).map(yearToJD), lc.top, MIN, 1);
const magMaj = [9, 10, 11, 12];
const magMin = d3.range(8.2, 12.41, 0.2).filter(d => Math.abs(d - Math.round(d)) > 0.01);
[[lc.left, 1], [lc.right, -1]].forEach(([x, dir]) => {
    yTicks(yMag, magMaj, x, MAJ, dir); yTicks(yMag, magMin, x, MIN, dir);
});

// H-beta ticks
const velMaj = velocityLabels;
const velMin = d3.range(-3000, 1900, 500).filter(d => d % 1500 !== 0);
[[hb.top, 1], [hb.mid, -1], [hb.mid, 1], [hb.bottom, -1]].forEach(([y, dir]) => {
    xTicks(xVel, velMaj, y, MAJ, dir); xTicks(xVel, velMin, y, MIN, dir);
});
const hbTopMin = [0.2, 0.4, 0.6, 0.8, 1.2, 1.4];
const hbBotMin = d3.range(0.2, 3.41, 0.2).filter(d => Math.abs(d - Math.round(d)) > 0.01);
[[hb.left, 1], [hb.right, -1]].forEach(([x, dir]) => {
    yTicks(yHbTop, [0, 1], x, MAJ, dir); yTicks(yHbTop, hbTopMin, x, MIN, dir);
    yTicks(yHbBot, [0, 1, 2, 3], x, MAJ, dir); yTicks(yHbBot, hbBotMin, x, MIN, dir);
});

// ---------- frames ----------
const gFrame = svg.append("g").attr("fill", "none").attr("stroke", "#000").attr("stroke-width", 2);
[[sp.left, sp.top, sp.right, sp.mid], [sp.left, sp.mid, sp.right, sp.bottom],
 [lc.left, lc.top, lc.right, lc.bottom],
 [hb.left, hb.top, hb.right, hb.mid], [hb.left, hb.mid, hb.right, hb.bottom]]
    .forEach(([x0, y0, x1, y1]) => gFrame.append("rect")
        .attr("x", x0).attr("y", y0).attr("width", x1 - x0).attr("height", y1 - y0));

// ---------- labels ----------
function labels(vals, xf, yf, anchor, size, fmt) {
    svg.append("g").selectAll("text").data(vals).join("text")
        .attr("x", xf).attr("y", yf).attr("text-anchor", anchor)
        .style("font-size", size + "px").style("fill", INK).text(fmt || (d => d));
}
labels(wavelengthLabels, d => xLam(d), 28, "middle", 22);
labels(topMaj, 77, d => yTop(d) + 8, "end", 22);
labels(midMaj, 77, d => yMid(d) + 8, "end", 22);
labels(yearLabels, d => xJD(yearToJD(d)), 596, "middle", 22);
labels(jdLabels, d => xJD(d), 991, "middle", 22);
labels(magMaj, 77, d => yMag(d) + 8, "end", 22);
labels(velocityLabels, d => xVel(d), 991, "middle", 22, d => d < 0 ? "\u2212" + (-d) : d);
labels([0, 1], 934, d => yHbTop(d) + 7.5, "end", 21);
labels([0, 1, 2, 3], 934, d => yHbBot(d) + 7.5, "end", 21);

function word(txt, x, y, size, len, color) {
    const t = svg.append("text").attr("x", x).attr("y", y)
        .style("font-size", size + "px").style("fill", color || INK).text(txt);
    if (len) t.attr("textLength", len).attr("lengthAdjust", "spacing");
    return t;
}
word("\u03bb(\u00c5)", 1283, 28, 22, 50);
word("burning", 700, 92, 33, 145);
word("2024", 1033, 87, 22, 57, RED);
word("HD 148743 A7 Ib", 294, 265, 22, 203, GRAY);
word("accreting", 687, 350, 33, 175);
word("2016", 1033, 343, 22, 57, GREEN);

word("accreting", 365, 940, 33, 173);
word("burning", 701, 940, 33, 143);
word("1860", 387, 668, 20, 51);
word("d", 443, 663, 18);
word("JD (\u2013 2400000)", 403, 1018, 22, 192);

word("2024", 1263, 622, 20, 50, RED);
word("burning", 972, 700, 33, 144);
word("accreting", 972, 763, 33, 174);
word("2016", 1263, 918, 20, 50, GREEN);
const hbeta = svg.append("text").attr("x", 1265).attr("y", 763)
    .style("font-size", "40px").style("fill", INK);
hbeta.append("tspan").text("H");
hbeta.append("tspan").style("font-style", "italic").text("\u03b2");
word("heliocentric velocity (km/s)", 968, 1018, 22, 358);

// rotated axis titles
const fluxLab = svg.append("text").attr("transform", "translate(33,299) rotate(-90)")
    .attr("text-anchor", "middle").style("font-size", "22px").style("fill", INK)
    .style("letter-spacing", "0.8px").style("word-spacing", "4px");
[["flux (\u00d710", 0], ["\u221213", 1], [" erg cm", 0], ["\u22122", 1], [" sec", 0],
 ["\u22121", 1], [" \u00c5", 0], ["\u22121", 1], [") + offset", 0]].forEach(([s, sup], i) => {
    fluxLab.append("tspan").text(s)
        .attr("dy", sup ? -8 : (i > 0 ? 8 : 0))
        .style("font-size", sup ? "14px" : "22px");
});
svg.append("text").attr("transform", "translate(31,786) rotate(-90)")
    .attr("text-anchor", "middle").style("font-size", "22px").style("fill", INK)
    .attr("textLength", 158).attr("lengthAdjust", "spacing").text("B magnitude");
</script>
</body>
</html>
